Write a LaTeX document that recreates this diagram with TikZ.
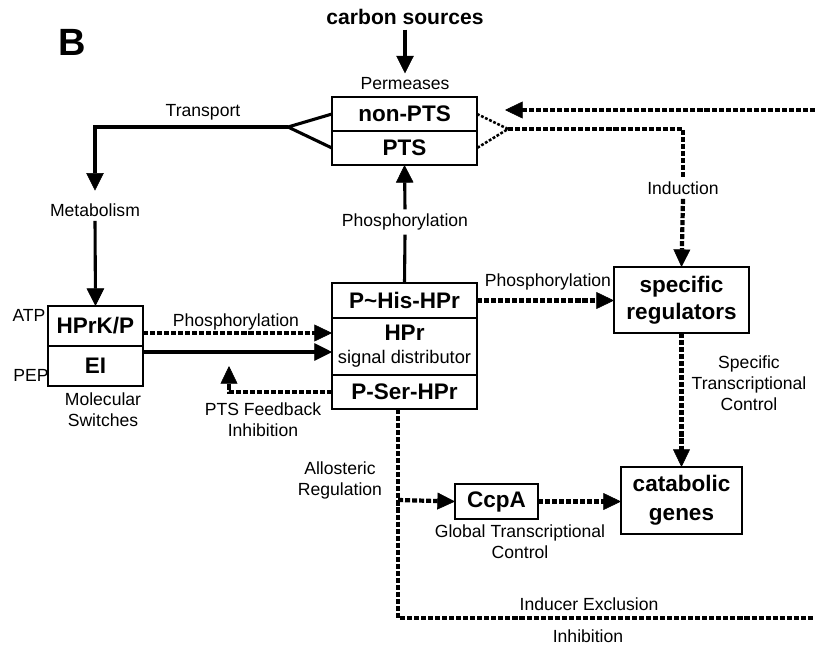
\documentclass[tikz,border=0pt]{standalone}
\usepackage{fontspec}
\setmainfont{Liberation Sans}
\usetikzlibrary{arrows.meta, positioning, calc}

\begin{document}
\begin{tikzpicture}[x=0.025cm, y=-0.025cm,
  box/.style={draw, line width=1.1pt, rectangle, inner sep=0pt, outer sep=0pt, align=center, font=\fontsize{16}{19}\selectfont\bfseries},
  lbl/.style={align=center, inner sep=3pt, font=\fontsize{12.5}{15}\selectfont},
  solidarr/.style={line width=2.2pt, -{Triangle[length=12.5pt, width=12.5pt, line width=0.4pt]}},
  dotline/.style={line width=3pt, dash pattern=on 3.6pt off 1.4pt},
  dotarr/.style={dotline, -{Triangle[length=12.5pt, width=12pt, line width=0.4pt]}}]
  \useasboundingbox (0,0) rectangle (815,645);

  % Panel letter
  \node[font=\fontsize{27}{30}\selectfont\bfseries] (panel) at (72,42) {B};

  % Permeases
  \node[font=\fontsize{15}{18}\selectfont\bfseries] (carbon) at (405,17) {carbon sources};
  \node[lbl] (perm) at (405,84) {Permeases};
  \node[box, minimum width=3.625cm, minimum height=0.85cm] (nonpts) at (404.5,114) {non-PTS};
  \node[box, minimum width=3.625cm, minimum height=0.85cm, below=0pt of nonpts] (pts) {PTS};
  \draw[solidarr] (carbon.south) -- (perm.north);

  % Transport to metabolism
  \coordinate (tfork) at (288,127);
  \node[lbl] (transp) at (203,112) {Transport};
  \node[lbl] (metab) at (95,210) {Metabolism};
  \draw[line width=2.2pt] (nonpts.west) -- (tfork) -- (pts.west);
  \draw[solidarr, shorten >=6pt] (tfork) -| (metab.north);

  % Molecular switches
  \node[box, minimum width=2.375cm, minimum height=1cm] (hprk) at (95.5,326) {HPrK/P};
  \node[box, minimum width=2.375cm, minimum height=1cm, below=0pt of hprk] (ei) {EI};
  \node[lbl] (atp) at (29,315) {ATP};
  \node[lbl] (pep) at (31,375) {PEP};
  \node[lbl] (molsw) at (103,410) {Molecular\\Switches};
  \draw[solidarr] (metab.south) -- (hprk.north);

  % HPr signal distributor
  \node[box, minimum width=3.625cm, minimum height=0.875cm] (phis) at (404.5,300.5) {P\textasciitilde His-HPr};
  \node[box, minimum width=3.625cm, minimum height=1.425cm, below=0pt of phis] (hpr) {HPr\\[-2.7pt]{\fontsize{13}{15}\selectfont\mdseries signal distributor}};
  \node[box, minimum width=3.625cm, minimum height=0.85cm, below=0pt of hpr] (pser) {P-Ser-HPr};

  \node[lbl, fill=white] (phos2) at (405,222) {Phosphorylation};
  \draw[line width=2.2pt] (phis.north) -- (phos2.south);
  \draw[solidarr] (phos2.north) -- (pts.south);

  \node[lbl] (phos1) at (236,322) {Phosphorylation};
  \draw[dotarr] (hprk.east |- 0,333) -- (hpr.west |- 0,333);
  \draw[solidarr, line width=3pt] (ei.east |- 0,352) -- (hpr.west |- 0,352);

  % Feedback inhibition
  \coordinate (fbtip) at (229,366);
  \node[lbl] (ptsfb) at (263,420) {PTS Feedback\\Inhibition};
  \draw[dotarr] (pser.west) -| (fbtip);

  % Specific regulators
  \node[box, minimum width=3.375cm, minimum height=1.65cm] (spec) at (681.5,300) {specific\\regulators};
  \node[lbl] (phos3) at (548,282) {Phosphorylation};
  \draw[dotarr] (phis.east) -- (spec.west |- phis.east);

  % Induction
  \coordinate (ifork) at (508,129);
  \coordinate (rin) at (815,110);
  \coordinate (rtip) at (505,110);
  \node[lbl] (induct) at (683,188) {Induction};
  \draw[dotline, line width=1.8pt, dash pattern=on 2pt off 1.2pt] (nonpts.east) -- (ifork) -- (pts.east);
  \draw[dotline] (ifork) -| (induct.north);
  \draw[dotarr] (induct.south) -- (spec.north);
  \draw[dotarr] (rin) -- (rtip);

  % Catabolic genes
  \node[box, minimum width=3.025cm, minimum height=1.675cm] (catab) at (681.5,500.5) {catabolic\\[1.5pt]genes};
  \node[lbl] (spectc) at (749,383) {Specific\\Transcriptional\\Control};
  \draw[dotarr] (spec.south) -- (catab.north);

  % CcpA
  \node[box, minimum width=2.075cm, minimum height=0.875cm] (ccpa) at (496.5,501.5) {CcpA};
  \node[lbl] (global) at (520,542) {Global Transcriptional\\Control};
  \node[lbl] (allost) at (340,480) {Allosteric\\Regulation};
  \coordinate (allo) at (398,500);
  \draw[dotarr] (allo) -- (ccpa.west);
  \draw[dotarr] (ccpa.east) -- (catab.west |- ccpa.east);

  % Inducer exclusion
  \coordinate (excl) at (398,618);
  \coordinate (redge) at (815,618);
  \node[lbl] (inducex) at (589,604) {Inducer Exclusion};
  \node[lbl] (inhib) at (588,636) {Inhibition};
  \draw[dotline] (pser.south -| excl) -- (excl) -- (redge);
\end{tikzpicture}
\end{document}
